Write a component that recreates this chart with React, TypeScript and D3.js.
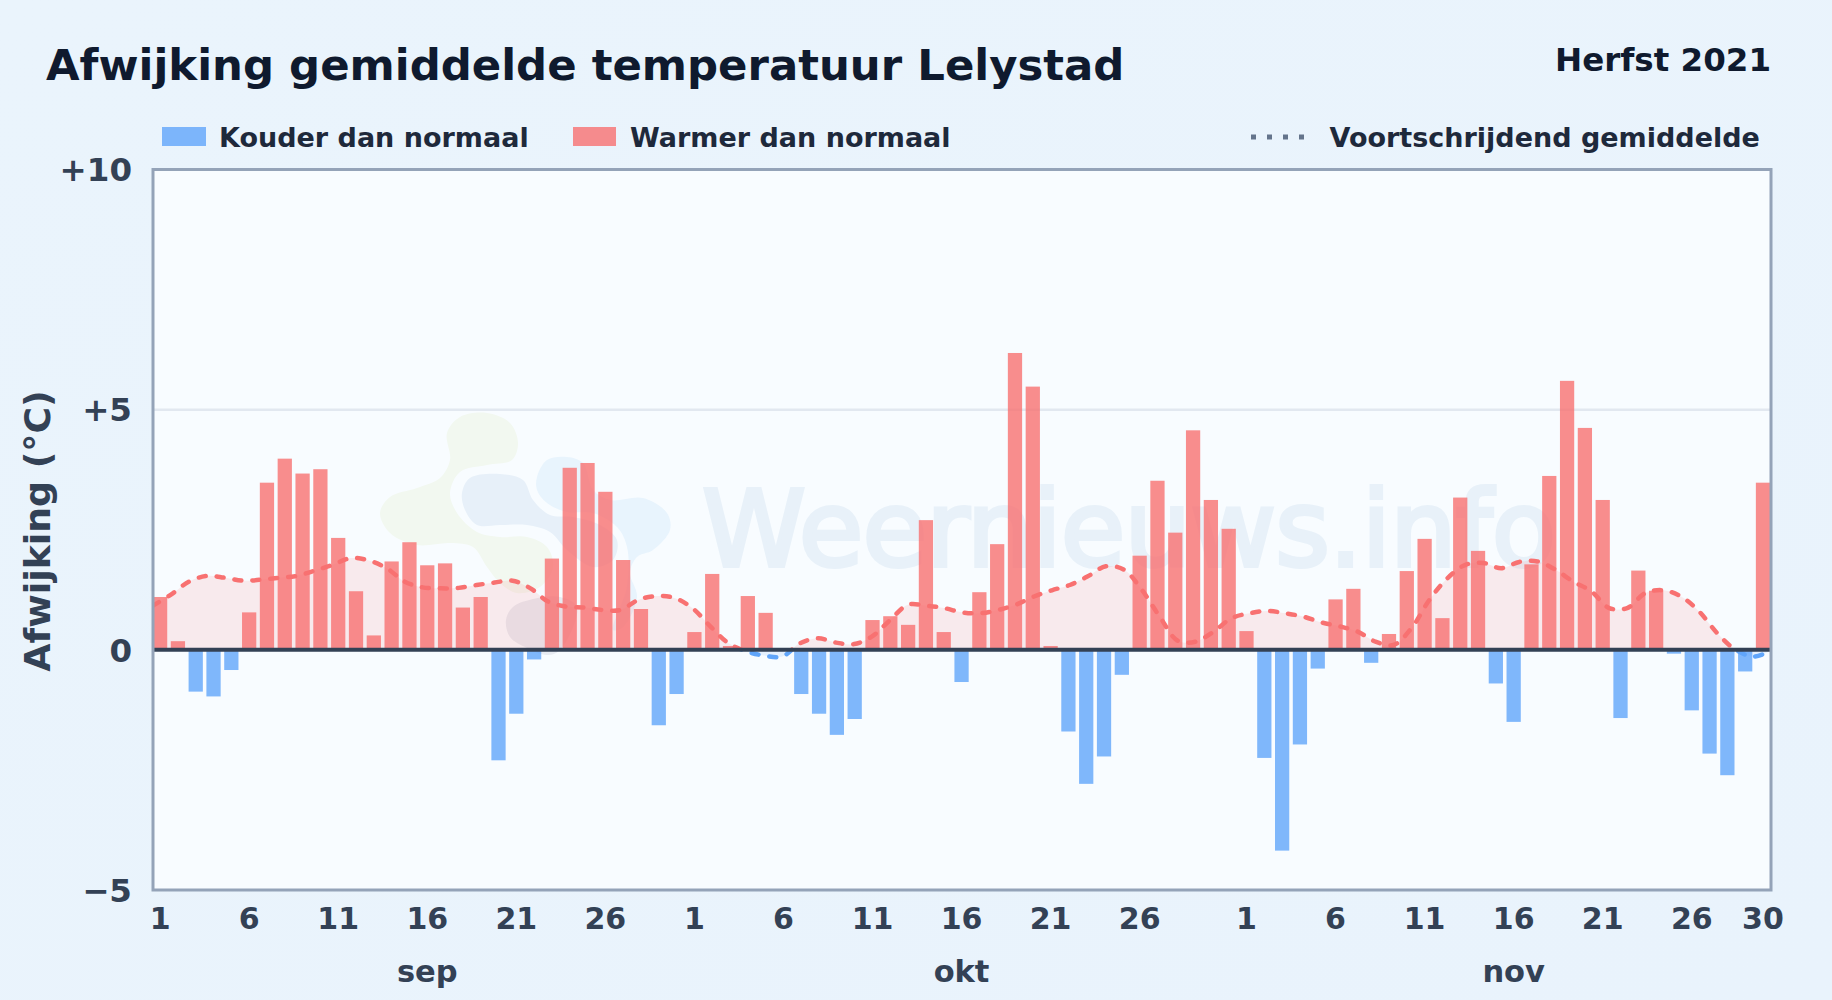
import * as d3 from 'd3';

const WIDTH = 1832;
const HEIGHT = 1000;

const months = ['sep', 'okt', 'nov'];
const monthLengths = [30, 31, 30];
const tickDays = [1, 6, 11, 16, 21, 26];
const yTicks = [-5, 0, 5, 10];

// daily deviation from normal
const sepValues = [
  1.1, 0.18, -0.87, -0.97, -0.42, 0.78, 3.48, 3.98, 3.67, 3.76,
  2.33, 1.22, 0.3, 1.84, 2.24, 1.76, 1.8, 0.88, 1.1, -2.3,
  -1.33, -0.2, 1.9, 3.79, 3.89, 3.29, 1.87, 0.85, -1.57, -0.92,
];
const oktValues = [
  0.37, 1.58, 0.08, 1.12, 0.77, 0, -0.92, -1.33, -1.77, -1.44,
  0.62, 0.7, 0.52, 2.7, 0.37, -0.67, 1.2, 2.2, 6.18, 5.48,
  0.08, -1.7, -2.79, -2.22, -0.52, 1.96, 3.52, 2.44, 4.57, 3.12, 2.52,
];
const novValues = [
  0.39, -2.25, -4.18, -1.97, -0.39, 1.05, 1.27, -0.27, 0.33, 1.64,
  2.31, 0.66, 3.17, 2.06, -0.7, -1.5, 1.78, 3.62, 5.6, 4.62,
  3.12, -1.42, 1.65, 1.23, -0.08, -1.26, -2.16, -2.61, -0.45, 3.48,
];

// moving average, same days
const rolling = [
  0.92, 1.15, 1.42, 1.54, 1.5, 1.44, 1.46, 1.5, 1.54, 1.65,
  1.77, 1.91, 1.86, 1.7, 1.42, 1.3, 1.28, 1.29, 1.35, 1.4,
  1.44, 1.28, 1.0, 0.9, 0.88, 0.83, 0.83, 1.04, 1.12, 1.08,
  0.87, 0.49, 0.14, -0.03, -0.12, -0.14, 0.14, 0.24, 0.15, 0.12,
  0.28, 0.62, 0.94, 0.92, 0.87, 0.78, 0.76, 0.83, 0.94, 1.11,
  1.24, 1.35, 1.53, 1.74, 1.67, 1.25, 0.69, 0.19, 0.17, 0.38,
  0.66, 0.76, 0.81, 0.76, 0.69, 0.57, 0.49, 0.38, 0.17, 0.1,
  0.45, 1.04, 1.49, 1.77, 1.81, 1.7, 1.83, 1.84, 1.67, 1.42,
  1.22, 0.87, 0.87, 1.18, 1.24, 1.11, 0.8, 0.35, 0.01, -0.14, -0.02,
];

const values = [...sepValues, ...oktValues, ...novValues];

const plot = { left: 153, right: 1771, top: 169.5, bottom: 890 };

const x = d3
  .scaleBand<number>()
  .domain(d3.range(values.length))
  .range([151.2, 1771.9])
  .paddingInner(0.2)
  .paddingOuter(0.1);
const xLine = d3.scaleLinear().domain([0, values.length - 1]).range([plot.left, plot.right]);
const y = d3.scaleLinear().domain([-5, 10]).range([plot.bottom, plot.top]);

const rollingLine = d3
  .line<number>()
  .x((_, i) => xLine(i))
  .y((d) => y(d))
  .curve(d3.curveCatmullRom);
const rollingArea = d3
  .area<number>()
  .x((_, i) => xLine(i))
  .y0(y(0))
  .y1((d) => y(d))
  .curve(d3.curveCatmullRom);

// tick labels: every 5 days per month, plus the last day
const monthStart = monthLengths.map((_, i) => d3.sum(monthLengths.slice(0, i)));
const xTicks = monthStart.flatMap((start) =>
  tickDays.map((day) => ({ label: String(day), index: start + day - 1 }))
);
xTicks.push({ label: '30', index: values.length - 1 });

// watermark logo outlines
const blob = d3.line().curve(d3.curveCatmullRomClosed.alpha(0.5));
const logoGreen: [number, number][] = [
  [447, 433], [460, 417], [487, 413], [510, 423], [518, 443], [512, 460], [487, 465], [460, 472],
  [450, 493], [457, 513], [477, 532], [500, 537], [527, 537], [547, 547], [553, 567], [540, 587],
  [517, 593], [500, 583], [487, 567], [473, 547], [450, 543], [417, 545], [390, 533], [380, 513],
  [390, 497], [417, 488], [440, 478], [450, 460],
];
const logoDark: [number, number][] = [
  [462, 493], [470, 478], [500, 474], [523, 480], [533, 500], [550, 515], [573, 517], [600, 525],
  [617, 540], [613, 560], [593, 567], [567, 550], [550, 532], [527, 525], [500, 525], [477, 525],
  [465, 510],
];
const logoLight: [number, number][] = [
  [537, 477], [547, 460], [567, 457], [583, 463], [593, 490], [610, 500], [643, 498], [667, 513],
  [670, 530], [653, 550], [637, 557], [630, 573], [637, 597], [623, 627], [613, 630], [627, 587],
  [627, 547], [617, 527], [593, 513], [567, 512], [547, 503], [537, 490],
];
const logoGrey: [number, number][] = [
  [506, 620], [513, 607], [533, 599], [560, 597], [577, 607], [560, 650], [547, 655], [527, 648],
  [510, 637],
];

const FONT = '"DejaVu Sans", sans-serif';

export default function App() {
  return (
    <svg
      width={WIDTH}
      height={HEIGHT}
      viewBox={`0 0 ${WIDTH} ${HEIGHT}`}
      style={{ position: 'fixed', left: 0, top: 0, fontFamily: FONT, fontWeight: 700 }}
    >
      <defs>
        <linearGradient id="bg" x1="0" y1="0" x2="1" y2="1">
          <stop offset="0%" stopColor="#eaf4fc" />
          <stop offset="100%" stopColor="#e9f3fc" />
        </linearGradient>
        <clipPath id="above">
          <rect x={plot.left} y={plot.top} width={plot.right - plot.left} height={y(0) - plot.top} />
        </clipPath>
        <clipPath id="below">
          <rect x={plot.left} y={y(0)} width={plot.right - plot.left} height={plot.bottom - y(0)} />
        </clipPath>
      </defs>

      <rect width={WIDTH} height={HEIGHT} fill="url(#bg)" />

      <text x={46} y={80} fontSize={43.4} fill="#0f1a2e">Afwijking gemiddelde temperatuur Lelystad</text>
      <text x={1771} y={71} fontSize={32.5} textAnchor="end" fill="#0f1a2e">Herfst 2021</text>

      {/* legend */}
      <rect x={162} y={127} width={44} height={19} fill="#60a5fa" fillOpacity={0.8} />
      <text x={219} y={146.5} fontSize={27} fill="#1e293b">Kouder dan normaal</text>
      <rect x={573} y={127} width={43} height={19} fill="#f87171" fillOpacity={0.8} />
      <text x={630} y={146.5} fontSize={27} fill="#1e293b">Warmer dan normaal</text>
      <line x1={1251} x2={1310} y1={137} y2={137} stroke="#64748b" strokeWidth={5} strokeDasharray="5,11" />
      <text x={1329.5} y={146.5} fontSize={27} fill="#1e293b">Voortschrijdend gemiddelde</text>

      {/* plot background */}
      <rect
        x={plot.left}
        y={plot.top}
        width={plot.right - plot.left}
        height={plot.bottom - plot.top}
        fill="#f8fcff"
      />

      {/* watermark */}
      <g>
        <path d={blob(logoGreen) ?? ''} fill="#f2f8f0" />
        <path d={blob(logoLight) ?? ''} fill="#e8f4fd" />
        <path d={blob(logoDark) ?? ''} fill="#e7f0f9" />
        <path d={blob(logoGrey) ?? ''} fill="#e7ebf2" />
        <text
          x={702}
          y={566}
          fontSize={105}
          fontWeight={400}
          fill="#e8f1f9"
          stroke="#e8f1f9"
          strokeWidth={4}
          textLength={854}
        >
          Weernieuws.info
        </text>
      </g>

      {/* grid */}
      <line x1={plot.left} x2={plot.right} y1={y(5)} y2={y(5)} stroke="#e2e8f0" strokeWidth={2.5} />

      {/* moving average fill */}
      <path d={rollingArea(rolling) ?? ''} fill="#f87171" fillOpacity={0.13} clipPath="url(#above)" />
      <path d={rollingArea(rolling) ?? ''} fill="#60a5fa" fillOpacity={0.13} clipPath="url(#below)" />

      {/* bars */}
      {values.map((d, i) => (
        <rect
          key={i}
          x={x(i)}
          y={d > 0 ? y(d) : y(0)}
          width={x.bandwidth()}
          height={Math.abs(y(d) - y(0))}
          fill={d > 0 ? '#f87171' : '#60a5fa'}
          fillOpacity={0.8}
        />
      ))}

      {/* moving average line */}
      <path
        d={rollingLine(rolling) ?? ''}
        fill="none"
        stroke="#f87171"
        strokeWidth={4.5}
        strokeDasharray="7,11"
        strokeLinecap="round"
        clipPath="url(#above)"
      />
      <path
        d={rollingLine(rolling) ?? ''}
        fill="none"
        stroke="#60a5fa"
        strokeWidth={4.5}
        strokeDasharray="7,11"
        strokeLinecap="round"
        clipPath="url(#below)"
      />

      {/* zero line and frame */}
      <line x1={plot.left} x2={plot.right} y1={y(0)} y2={y(0)} stroke="#334155" strokeWidth={4} />
      <rect
        x={plot.left}
        y={plot.top}
        width={plot.right - plot.left}
        height={plot.bottom - plot.top}
        fill="none"
        stroke="#94a3b8"
        strokeWidth={3}
      />

      {/* y axis */}
      {yTicks.map((t) => (
        <text key={t} x={132} y={y(t)} dy="0.36em" textAnchor="end" fontSize={32.5} fill="#334155">
          {t > 0 ? `+${t}` : t < 0 ? `\u2212${-t}` : '0'}
        </text>
      ))}
      <text
        transform={`translate(50,531) rotate(-90)`}
        textAnchor="middle"
        fontSize={36.3}
        fill="#334155"
      >
        Afwijking (°C)
      </text>

      {/* x axis */}
      {xTicks.map((t) => (
        <text
          key={t.index}
          x={(x(t.index) ?? 0) + x.bandwidth() / 2}
          y={929}
          textAnchor="middle"
          fontSize={30}
          fill="#334155"
        >
          {t.label}
        </text>
      ))}
      {months.map((m, i) => (
        <text
          key={m}
          x={(x(monthStart[i] + 15) ?? 0) + x.bandwidth() / 2}
          y={982}
          textAnchor="middle"
          fontSize={30.5}
          fill="#334155"
        >
          {m}
        </text>
      ))}
    </svg>
  );
}
